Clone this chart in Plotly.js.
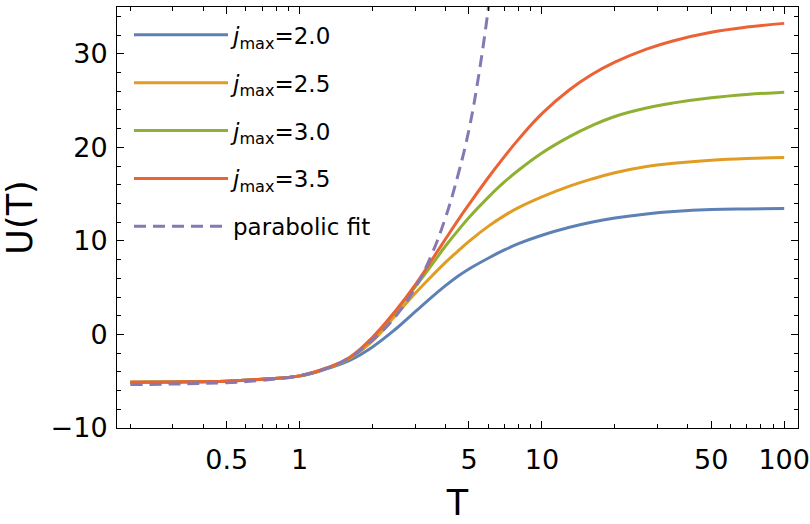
<!DOCTYPE html>
<html>
<head>
<meta charset="utf-8">
<script src="https://cdn.plot.ly/plotly-3.0.1.min.js"></script>
<style>
  html, body { margin: 0; padding: 0; background: #fff; }
  #graphDiv { width: 810px; height: 524px; }
</style>
</head>
<body>
<div id="graphDiv"></div>
<script>
// temperatures shared by the four j_max curves
const T = [0.2, 0.3, 0.4, 0.5, 0.7, 1, 1.3, 1.6, 2, 2.5, 3, 3.5, 4, 4.5, 5, 6, 7, 8, 10, 13, 16, 20, 27, 35, 50, 70, 100];

const U_j20 = [-5.1, -5.08, -5.05, -5.0, -4.78, -4.45, -3.65, -2.8, -1.33, 0.61, 2.43, 3.97, 5.22, 6.22, 7.0, 8.15, 9.03, 9.7, 10.6, 11.45, 11.99, 12.44, 12.88, 13.14, 13.35, 13.42, 13.45];
const U_j25 = [-5.1, -5.08, -5.05, -5.0, -4.78, -4.43, -3.6, -2.6, -0.7, 2.1, 4.4, 6.2, 7.7, 8.9, 9.95, 11.55, 12.7, 13.55, 14.7, 15.85, 16.6, 17.28, 17.95, 18.3, 18.62, 18.8, 18.9];
const U_j30 = [-5.1, -5.08, -5.05, -5.0, -4.78, -4.43, -3.58, -2.55, -0.35, 2.5, 5.1, 7.4, 9.45, 11.1, 12.5, 14.65, 16.3, 17.55, 19.4, 21.15, 22.3, 23.3, 24.2, 24.75, 25.3, 25.65, 25.9];
const U_j35 = [-5.1, -5.08, -5.05, -5.0, -4.78, -4.43, -3.56, -2.5, -0.3, 2.6, 5.3, 7.9, 10.2, 12.2, 13.9, 16.75, 19.0, 20.85, 23.6, 26.15, 27.75, 29.1, 30.5, 31.4, 32.3, 32.85, 33.25];

// parabolic fit (dashed)
const T_fit = [0.2, 0.3, 0.5, 0.7, 1, 1.3, 1.6, 2, 2.5, 3, 3.5, 4, 4.5, 5, 5.5, 6, 6.1];
const U_fit = [-5.36, -5.3, -5.15, -4.9, -4.4, -3.6, -2.5, -0.6, 2.0, 5.0, 8.5, 12.5, 17.0, 21.9, 27.9, 34.7, 36.2];

const names = ["<i>j</i><sub>max</sub>=2.0", "<i>j</i><sub>max</sub>=2.5", "<i>j</i><sub>max</sub>=3.0", "<i>j</i><sub>max</sub>=3.5", "parabolic fit"];
const colors = ["#5E81B5", "#E19C24", "#8FB032", "#EB6235", "#8778B3"];

const xMajor = [0.5, 1, 5, 10, 50, 100];
const xMajorText = ["0.5", "1", "5", "10", "50", "100"];
const xMinor = [0.2, 0.3, 0.4, 0.6, 0.7, 0.8, 0.9, 2, 3, 4, 6, 7, 8, 9, 20, 30, 40, 60, 70, 80, 90];
const yMajor = [-10, 0, 10, 20, 30];

const FONT = "DejaVu Sans";

function curve(x, y, i, dash) {
    return {
        x: x, y: y,
        name: names[i],
        legendgroup: "g" + i,
        mode: "lines",
        type: "scatter",
        line: {color: colors[i], width: 3, shape: "spline", smoothing: 1.2, dash: dash || "solid"}
    };
}

const data = [
    curve(T, U_j20, 0),
    curve(T, U_j25, 1),
    curve(T, U_j30, 2),
    curve(T, U_j35, 3),
    curve(T_fit, U_fit, 4, "12px,7px")
];

const axisCommon = {
    showline: true, linecolor: "#000", linewidth: 1, mirror: "ticks",
    ticks: "inside", ticklen: 7, tickwidth: 1, tickcolor: "#000",
    showgrid: false, zeroline: false,
    tickfont: {family: FONT, size: 27, color: "#000"}
};

const layout = {
    width: 810, height: 524,
    margin: {l: 117, r: 12, t: 7, b: 96},
    paper_bgcolor: "#fff", plot_bgcolor: "#fff",
    font: {family: FONT, color: "#000"},
    showlegend: true,
    legend: {
        x: 0.0176, y: 0.985, xanchor: "left", yanchor: "top",
        bgcolor: "rgba(0,0,0,0)", borderwidth: 0,
        font: {family: FONT, size: 23, color: "#000"},
        itemwidth: 94, tracegroupgap: 15
    },
    xaxis: Object.assign({}, axisCommon, {
        type: "log",
        range: [-0.7538, 2.0569],
        tickmode: "array", tickvals: xMajor, ticktext: xMajorText,
        ticklabelstandoff: 8,
        minor: {tickvals: xMinor, ticks: "inside", ticklen: 4, tickcolor: "#000", tickwidth: 1},
        title: {text: "T", font: {family: FONT, size: 35, color: "#000"}, standoff: 16}
    }),
    yaxis: Object.assign({}, axisCommon, {
        range: [-10, 35],
        tickmode: "array", tickvals: yMajor,
        ticklabelstandoff: 3,
        minor: {dtick: 2, tick0: 0, ticks: "inside", ticklen: 4, tickcolor: "#000", tickwidth: 1},
        title: {text: "U(T)", font: {family: FONT, size: 35, color: "#000"}, standoff: 10}
    })
};

Plotly.newPlot("graphDiv", data, layout, {displayModeBar: false, staticPlot: true});
</script>
</body>
</html>
